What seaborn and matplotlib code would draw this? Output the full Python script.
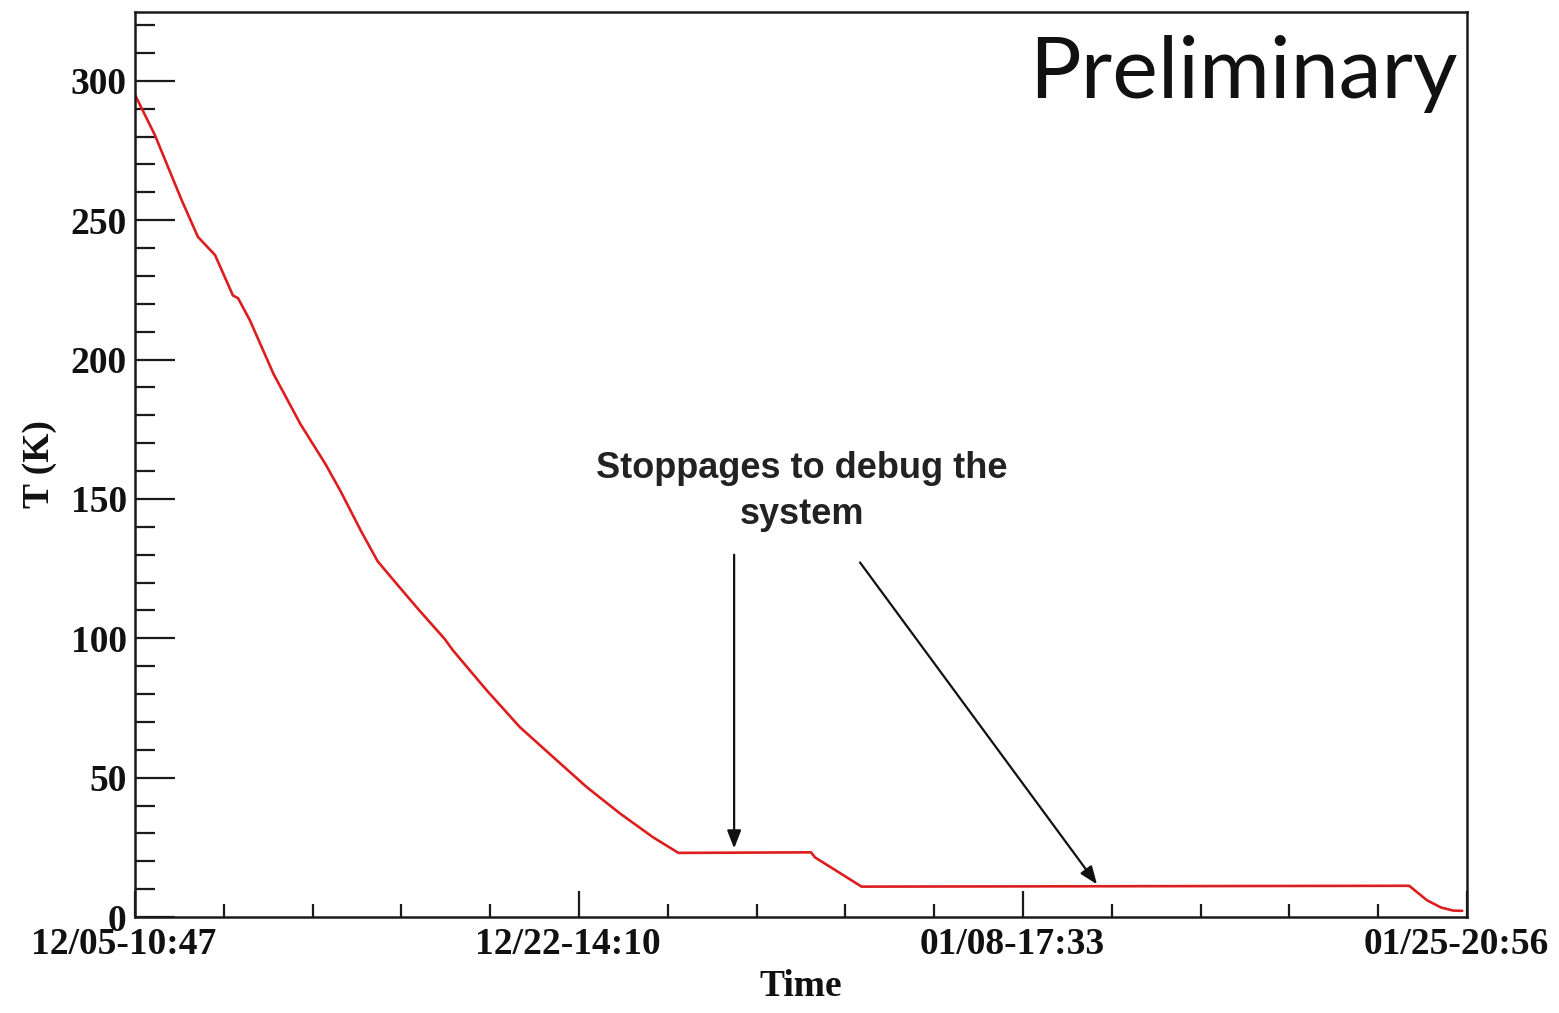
import matplotlib
matplotlib.use("Agg")
import matplotlib.pyplot as plt
import matplotlib.transforms as mtransforms
import seaborn as sns
import numpy as np
import pandas as pd
from matplotlib.ticker import MultipleLocator, FixedLocator

# ---- data (days since 12/05-10:47, temperature in K) ----
time_days = [0.0, 0.77, 1.81, 2.43, 3.09, 3.78, 3.98, 4.44, 5.35, 6.39, 7.36,
             7.94, 8.73, 9.37, 10.15, 10.93, 11.96, 12.28, 13.58, 14.86, 16.14,
             17.44, 18.73, 20.0, 20.98, 26.1, 26.25, 28.05, 49.19, 49.88,
             50.42, 50.89, 51.24]
temp_K = [295.0, 280.5, 257.0, 244.0, 237.5, 223.0, 222.0, 214.0, 194.8, 176.8,
          162.4, 152.7, 138.4, 127.6, 119.0, 110.5, 99.7, 95.6, 81.3, 68.1, 57.4,
          46.6, 37.1, 28.6, 23.0, 23.2, 21.4, 10.9, 11.2, 6.0, 3.4, 2.3, 2.2]

tick_labels = ["12/05-10:47", "12/22-14:10", "01/08-17:33", "01/25-20:56"]
label_step_days = 17.141   # 17 d 3 h 23 min
n_minor_per_major = 5

# annotation anchors (data coords)
note_text = "Stoppages to debug the\nsystem"
note_xy = (25.75, 152.7)
arrow1 = ((23.13, 130.0), (23.13, 24.6))
arrow2 = ((27.99, 127.2), (37.14, 11.7))

sns.set_theme(style="white")
plt.rcParams["font.family"] = ["Liberation Serif", "DejaVu Serif"]

fig = plt.figure(figsize=(15.59, 10.13), dpi=100)
ax = fig.add_axes([135/1559, 1-917/1013, (1467-135)/1559, (917-12)/1013])

df = pd.DataFrame({"t": time_days, "T": temp_K})
sns.lineplot(data=df, x="t", y="T", ax=ax, color="#dc1e1e", linewidth=1.9,
             estimator=None, sort=False)

xmax = 3 * label_step_days
ax.set_xlim(0, xmax)
ax.set_ylim(0, 324.7)

major_x = [i * label_step_days for i in range(len(tick_labels))]
minor_x = [i * label_step_days / n_minor_per_major for i in range(3 * n_minor_per_major + 1)]
ax.xaxis.set_major_locator(FixedLocator(major_x))
ax.xaxis.set_minor_locator(FixedLocator(minor_x))
ax.set_xticklabels(tick_labels)
ax.yaxis.set_major_locator(MultipleLocator(50))
ax.yaxis.set_minor_locator(MultipleLocator(10))

for s in ax.spines.values():
    s.set_visible(True)
    s.set_color("#1a1a1a")
    s.set_linewidth(1.8)

ax.tick_params(axis="y", which="major", direction="in", length=29, width=1.6,
               color="#1a1a1a", left=True, right=False, pad=6,
               labelsize=27)
ax.tick_params(axis="y", which="minor", direction="in", length=14.5, width=1.6,
               color="#1a1a1a", left=True, right=False)
ax.tick_params(axis="x", which="major", direction="in", length=19, width=1.6,
               color="#1a1a1a", bottom=True, top=False, pad=7,
               labelsize=27)
ax.tick_params(axis="x", which="minor", direction="in", length=9.5, width=1.6,
               color="#1a1a1a", bottom=True, top=False)
shift = mtransforms.ScaledTranslation(-11/100, 0, fig.dpi_scale_trans)
for lab in ax.get_xticklabels():
    lab.set_fontweight("bold")
    lab.set_color("#111111")
    lab.set_transform(lab.get_transform() + shift)
for lab in ax.get_yticklabels():
    lab.set_fontweight("bold")
    lab.set_color("#111111")

ax.set_xlabel("Time", fontsize=27, fontweight="bold", color="#111111", labelpad=5)
ax.set_ylabel("T (K)", fontsize=27, fontweight="bold", color="#111111", labelpad=10)
ax.grid(False)

ax.text(note_xy[0], note_xy[1], note_text, ha="center", va="center",
        multialignment="center", fontsize=26, fontweight="bold",
        family=["Liberation Sans", "DejaVu Sans"], color="#222222",
        linespacing=1.4)
for (start, end) in (arrow1, arrow2):
    ax.annotate("", xy=end, xytext=start,
                arrowprops=dict(arrowstyle="-|>,head_length=0.9,head_width=0.35",
                                color="#111111", lw=1.6, shrinkA=0, shrinkB=0))

ax.text(0.993, 0.905, "Preliminary", transform=ax.transAxes, ha="right",
        va="baseline", fontsize=62, fontweight="normal",
        family=["Lato", "DejaVu Sans"], color="#111111")

fig.savefig("out.png", dpi=100)
